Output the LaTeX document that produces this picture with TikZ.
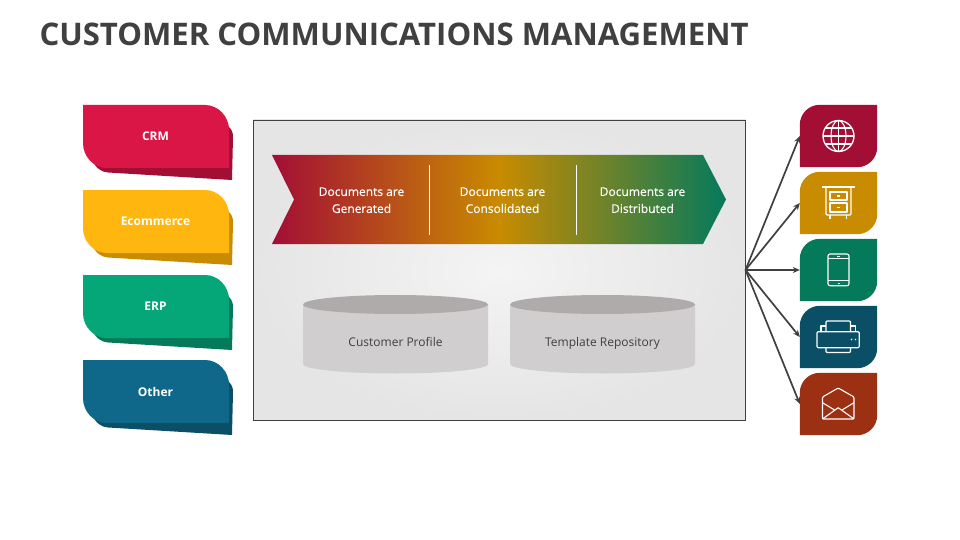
\documentclass[tikz,border=0pt]{standalone}
\usepackage{fontspec}
\setmainfont{Open Sans}
\newfontfamily\semifont[FakeBold=0.25]{Open Sans}
\definecolor{cA}{HTML}{D91645}\definecolor{dA}{HTML}{A30E35}
\definecolor{cB}{HTML}{FFB60F}\definecolor{dB}{HTML}{C98B00}
\definecolor{cC}{HTML}{05A678}\definecolor{dC}{HTML}{047A5B}
\definecolor{cD}{HTML}{0F688A}\definecolor{dD}{HTML}{0A4F66}
\definecolor{dE}{HTML}{9C3012}
\definecolor{ink}{HTML}{404040}
\definecolor{cylbody}{HTML}{D0CECE}\definecolor{cyltop}{HTML}{AFABAB}
\definecolor{panelin}{HTML}{F4F4F4}\definecolor{panelout}{HTML}{E5E5E5}
\usetikzlibrary{arrows.meta}
\tikzset{
  lefttext/.style={text=white,font=\bfseries\fontsize{12}{14}\selectfont},
  bandtext/.style={text=white,align=center,font=\semifont\fontsize{12}{17}\selectfont},
  cyltext/.style={text=ink,font=\fontsize{12}{14}\selectfont},
  anchorbox/.style={minimum width=77pt,minimum height=62pt,inner sep=0pt},
  icon/.style={draw=white,line width=1.1pt,line join=round,fill=none},
  link/.style={draw=ink,line width=1.7pt,-{Stealth[length=7pt,width=6pt]}},
  divider/.style={draw=white,line width=1pt}
}
\newcommand{\lefttile}[3]{%
  \begin{scope}[shift={(0,#1)}]
    \fill[#3] (220,115) -- (229,127) .. controls (232,130) and (233,133) .. (233,137) -- (232,180) -- (108,172.5) .. controls (101,172) and (96,168) .. (92,160) -- cycle;
    \fill[#2] (83,105) -- (205,105) .. controls (218,105) and (229,116) .. (229,130) -- (229,168) -- (107,168) .. controls (94,168) and (83,157) .. (83,143) -- cycle;
  \end{scope}}
\newcommand{\righttile}[2]{%
  \fill[#2] (#1.south west) -- ([yshift=-20pt]#1.north west) arc[start angle=180,end angle=90,radius=20pt] -- (#1.north east) -- ([yshift=20pt]#1.south east) arc[start angle=0,end angle=-90,radius=20pt] -- cycle;}
\begin{document}
\begin{tikzpicture}[x=1pt,y=-1pt]
\useasboundingbox (0,0) rectangle (960,540);
\fill[white] (0,0) rectangle (960,540);
\node[anchor=west,inner sep=0pt,text=ink,font=\bfseries\fontsize{31.1}{36}\selectfont] (title) at (39.3,34.5) {CUSTOMER COMMUNICATIONS MANAGEMENT};

% left tiles
\lefttile{0}{cA}{dA}
\lefttile{85}{cB}{dB}
\lefttile{170}{cC}{dC}
\lefttile{255}{cD}{dD}
\node[lefttext] (crm) at (155.5,136.5) {CRM};
\node[lefttext] (ecom) at (155.5,221.5) {Ecommerce};
\node[lefttext] (erp) at (155.5,306.5) {ERP};
\node[lefttext] (other) at (155.5,391.5) {Other};

% panel
\shade[inner color=panelin,outer color=panelout] (253,120) rectangle (745.5,420);
\draw[draw=ink,line width=0.8pt] (253,120) rectangle (745.5,420);
\coordinate (hub) at (745.5,270);

% band
\shade[left color=dA,right color=dC,middle color=dB] (272,155) -- (703,155) -- (726,199.5) -- (703,244) -- (272,244) -- (294,199.5) -- cycle;
\coordinate (d1a) at (429.5,165);\coordinate (d1b) at (429.5,235);
\coordinate (d2a) at (576.5,165);\coordinate (d2b) at (576.5,235);
\draw[divider] (d1a) -- (d1b);
\draw[divider] (d2a) -- (d2b);
\node[bandtext] (b1) at (361.5,200.2) {Documents are\\Generated};
\node[bandtext] (b2) at (502.5,200.2) {Documents are\\Consolidated};
\node[bandtext] (b3) at (642.5,200.2) {Documents are\\Distributed};

% cylinders
\foreach \cx in {395.5,602.5}{
  \fill[cylbody] (\cx-92.5,304.5) -- (\cx-92.5,364) arc[x radius=92.5,y radius=9.5,start angle=180,end angle=0] -- (\cx+92.5,304.5) -- cycle;
  \fill[cyltop] (\cx,304.5) ellipse[x radius=92.5,y radius=9.5];
}
\node[cyltext,anchor=base] (c1) at (395.5,346) {Customer Profile};
\node[cyltext,anchor=base] (c2) at (602.5,346) {Template Repository};

% right tiles
\node[anchorbox] (t1) at (838.5,136) {};
\node[anchorbox] (t2) at (838.5,203) {};
\node[anchorbox] (t3) at (838.5,270) {};
\node[anchorbox] (t4) at (838.5,337) {};
\node[anchorbox] (t5) at (838.5,404) {};
\righttile{t1}{dA}\righttile{t2}{dB}\righttile{t3}{dC}\righttile{t4}{dD}\righttile{t5}{dE}
\foreach \t in {t1,t2,t3,t4,t5}{\draw[link] (hub) -- (\t.west);}

% globe
\begin{scope}[shift={(t1.center)}]
  \draw[icon,line width=1.3pt] (0,0) circle[radius=15.5];
  \draw[icon] (0,0) ellipse[x radius=7.5,y radius=15.5];
  \draw[icon] (0,-15.5) -- (0,15.5) (-15.5,0) -- (15.5,0) (-13,-8) -- (13,-8) (-13,8) -- (13,8);
\end{scope}
% cabinet
\begin{scope}[shift={(t2.center)}]
  \draw[icon] (-16.5,-16) -- (16.5,-16);
  \draw[icon,rounded corners=1pt] (-12.5,-16) -- (-12.5,12) -- (12.5,12) -- (12.5,-16);
  \draw[icon,line width=1.4pt] (-8.5,-11) rectangle (8.5,-3) (-8.5,0) rectangle (8.5,9);
  \draw[icon,line width=1.4pt] (-1.5,-7) -- (1.5,-7) (-1.5,4.5) -- (1.5,4.5);
  \draw[icon] (-8.5,12) -- (-8.5,16) (8,12) -- (8,16);
\end{scope}
% tablet
\begin{scope}[shift={(t3.center)}]
  \draw[icon,rounded corners=2pt] (-10.5,-16) rectangle (10.5,15.7);
  \draw[icon] (-10.5,10.5) -- (10.5,10.5) (-10.5,-11.5) -- (10.5,-11.5);
  \draw[icon] (-1.5,-13.8) -- (1.5,-13.8) (-1,13.2) -- (1,13.2);
\end{scope}
% printer
\begin{scope}[shift={(t4.center)}]
  \draw[icon,rounded corners=1pt] (-21.5,-5.3) rectangle (20.7,10.7);
  \draw[icon,rounded corners=1pt] (-12.5,-5.3) -- (-12.5,-16) -- (12,-16) -- (12,-5.3);
  \draw[icon,rounded corners=1pt] (-12.5,10.7) -- (-12.5,15.5) -- (12,15.5) -- (12,10.7);
  \draw[icon] (-17.5,-5.3) -- (-17.5,-11) -- (-12.5,-11) (12,-11) -- (17,-11) -- (17,-5.3);
  \fill[white] (13,2.5) circle[radius=0.9] (17,2.5) circle[radius=0.9];
\end{scope}
% envelope
\begin{scope}[shift={(t5.center)}]
  \draw[icon,rounded corners=1pt] (-16,-7) -- (-0.3,-16) -- (15.5,-7) -- (15.5,15) -- (-16,15) -- cycle;
  \draw[icon] (-16,-1.3) -- (-4,6) (15.5,-1.3) -- (3.5,6);
  \draw[icon] (-16,15) -- (-0.3,3.7) -- (15.5,15);
\end{scope}
\end{tikzpicture}
\end{document}
